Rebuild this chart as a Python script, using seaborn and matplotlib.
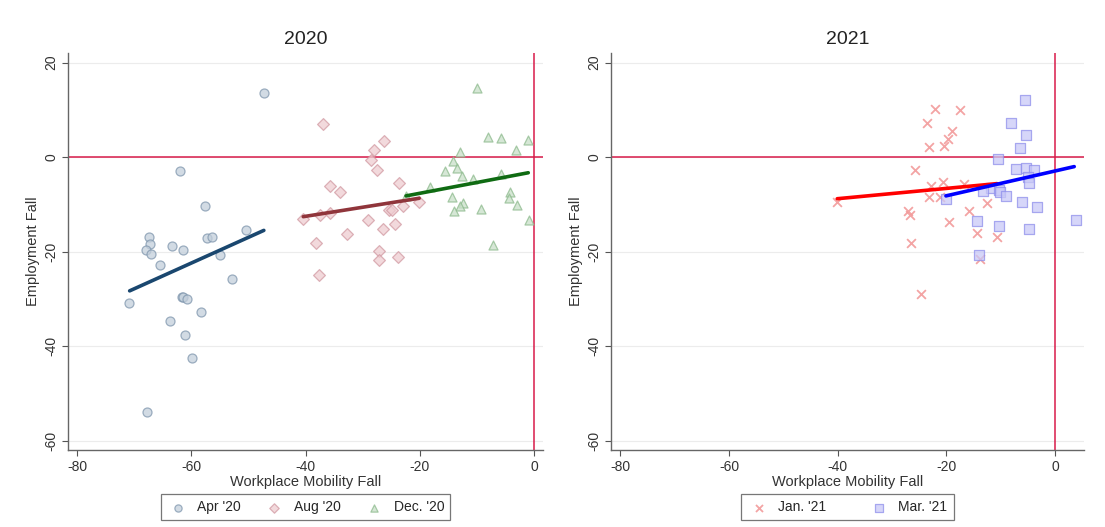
import numpy as np
import pandas as pd
import matplotlib
matplotlib.use("Agg")
import matplotlib.pyplot as plt
import seaborn as sns

# ---- data: workplace mobility fall (x) vs employment fall (y) ----
apr20_x = [-47.2, -61.9, -57.6, -50.5, -67.4, -57.3, -56.4, -67.2, -63.4, -67.9,
           -61.4, -67.0, -55.0, -65.4, -52.9, -70.9, -61.7, -61.5, -60.8, -58.3,
           -63.7, -61.1, -59.8, -67.7]
apr20_y = [13.5, -2.9, -10.3, -15.4, -16.8, -17.2, -16.8, -18.4, -18.7, -19.6,
           -19.6, -20.4, -20.8, -22.9, -25.7, -30.9, -29.6, -29.7, -30.1, -32.8,
           -34.6, -37.6, -42.6, -53.9]

aug20_x = [-37.0, -26.3, -28.0, -28.6, -27.4, -23.6, -35.7, -34.0, -40.4, -37.4,
           -35.8, -25.4, -24.9, -23.0, -29.1, -26.4, -24.3, -32.7, -38.2, -27.1,
           -27.1, -23.8, -37.7, -20.2]
aug20_y = [7.0, 3.5, 1.5, -0.5, -2.8, -5.5, -6.2, -7.3, -13.0, -12.3,
           -11.9, -11.1, -11.1, -10.3, -13.3, -15.3, -14.1, -16.2, -18.1, -19.9,
           -21.8, -21.2, -24.9, -9.5]

dec20_x = [-9.9, -8.0, -5.7, -1.0, -3.1, -13.0, -14.1, -13.5, -15.6, -12.6,
           -10.7, -5.8, -18.2, -22.4, -14.4, -4.2, -4.4, -3.0, -12.4, -12.9,
           -14.0, -9.2, -0.9, -7.1]
dec20_y = [14.6, 4.2, 4.1, 3.7, 1.6, 1.1, -0.8, -2.2, -3.0, -4.0,
           -4.7, -3.5, -6.3, -8.2, -8.4, -7.3, -8.6, -10.1, -9.8, -10.4,
           -11.4, -11.0, -13.2, -18.5]

jan21_x = [-22.2, -17.6, -23.6, -19.0, -19.8, -20.4, -23.3, -25.8, -20.7, -22.9,
           -16.7, -23.2, -21.1, -12.6, -27.1, -26.7, -15.8, -19.5, -14.4, -10.7,
           -26.6, -13.8, -40.1, -24.7]
jan21_y = [10.1, 10.0, 7.3, 5.6, 3.8, 2.3, 2.1, -2.8, -5.3, -6.1,
           -5.7, -8.5, -8.5, -9.6, -11.4, -12.3, -11.4, -13.8, -16.1, -16.9,
           -18.1, -21.5, -9.5, -28.9]

mar21_x = [-5.6, -8.2, -5.4, -6.5, -10.6, -7.2, -5.4, -3.9, -5.0, -4.8,
           -11.8, -13.3, -10.4, -10.2, -9.1, -20.1, -6.1, -3.3, -14.4, -10.4,
           -4.8, 3.8, -14.0]
mar21_y = [12.1, 7.3, 4.7, 2.0, -0.4, -2.6, -2.3, -2.8, -4.2, -5.4,
           -6.6, -7.2, -7.0, -7.4, -8.2, -8.8, -9.5, -10.5, -13.5, -14.6,
           -15.2, -13.4, -20.7]

# fitted linear trend per period (endpoints of the fitted segment)
apr20_fit_x = [-70.8, -47.3]
apr20_fit_y = [-28.3, -15.5]
aug20_fit_x = [-40.4, -20.1]
aug20_fit_y = [-12.6, -8.7]
dec20_fit_x = [-22.4, -1.0]
dec20_fit_y = [-8.2, -3.3]
jan21_fit_x = [-40.1, -10.7]
jan21_fit_y = [-8.8, -5.6]
mar21_fit_x = [-20.1, 3.5]
mar21_fit_y = [-8.2, -2.0]

x_ticks = [-80, -60, -40, -20, 0]
y_ticks = [-60, -40, -20, 0, 20]

groups_2020 = [
    ("Apr '20", apr20_x, apr20_y, apr20_fit_x, apr20_fit_y, "o",
     "#c3cfdb", "#8097ae", "#1a476f"),
    ("Aug '20", aug20_x, aug20_y, aug20_fit_x, aug20_fit_y, "D",
     "#eecdd1", "#d29aa3", "#90353b"),
    ("Dec. '20", dec20_x, dec20_y, dec20_fit_x, dec20_fit_y, "^",
     "#c9e0c9", "#8dba8d", "#0f6b12"),
]
groups_2021 = [
    ("Jan. '21", jan21_x, jan21_y, jan21_fit_x, jan21_fit_y, "x",
     "#f29a9a", "#f29a9a", "#ff0000"),
    ("Mar. '21", mar21_x, mar21_y, mar21_fit_x, mar21_fit_y, "s",
     "#c9c9f7", "#8f8fec", "#0000ff"),
]

sns.set_style("white")
plt.rcParams["font.family"] = ["Liberation Sans", "DejaVu Sans"]

fig = plt.figure(figsize=(11.05, 5.27), dpi=100)
ax_l = fig.add_axes([0.0615, 0.146, 0.430, 0.753])
ax_r = fig.add_axes([0.553, 0.146, 0.428, 0.753])

ref_color = "#d81b4a"


def draw_panel(ax, groups, title, xlim, colspace):
    ax.set_xlim(*xlim)
    ax.set_ylim(-62, 22)
    for yt in y_ticks:
        ax.axhline(yt, color="#ececec", lw=0.8, zorder=0)
    ax.axhline(0, color=ref_color, lw=1.1, zorder=1)
    ax.axvline(0, color=ref_color, lw=1.1, zorder=1)
    for label, xs, ys, fx, fy, mk, fc, ec, lc in groups:
        df = pd.DataFrame({"x": xs, "y": ys})
        if mk == "x":
            sns.scatterplot(data=df, x="x", y="y", marker="x", color=fc,
                            s=40, linewidth=1.3, alpha=0.9, ax=ax,
                            label=label, zorder=2)
        else:
            size = 42 if mk != "D" else 36
            sns.scatterplot(data=df, x="x", y="y", marker=mk, color=fc,
                            edgecolor=ec, linewidth=0.9, s=size, alpha=0.75,
                            ax=ax, label=label, zorder=2)
        fit = pd.DataFrame({"x": fx, "y": fy})
        sns.lineplot(data=fit, x="x", y="y", color=lc, lw=2.6, ax=ax,
                     zorder=3, legend=False, estimator=None, sort=False)
    ax.set_xticks(x_ticks)
    ax.set_yticks(y_ticks)
    ax.set_xticklabels([str(v) for v in x_ticks])
    ax.set_yticklabels([str(v) for v in y_ticks])
    ax.tick_params(axis="both", direction="out", length=4, width=0.8,
                   color="#555555", labelsize=10, labelcolor="#333333",
                   left=True, bottom=True, pad=3)
    ax.tick_params(axis="y", labelrotation=90)
    for lbl in ax.get_yticklabels():
        lbl.set_va("center")
    for side in ["top", "right"]:
        ax.spines[side].set_visible(False)
    for side in ["left", "bottom"]:
        ax.spines[side].set_color("#666666")
        ax.spines[side].set_linewidth(1.0)
    ax.set_xlabel("Workplace Mobility Fall", fontsize=10.5, color="#333333",
                  labelpad=1)
    ax.set_ylabel("Employment Fall", fontsize=10.5, color="#333333",
                  labelpad=3)
    ax.set_title(title, fontsize=14, color="#222222", pad=7)
    leg = ax.legend(loc="upper center", bbox_to_anchor=(0.5, -0.10),
                    ncol=len(groups), frameon=True, fancybox=False,
                    fontsize=10, handletextpad=0.6, columnspacing=colspace,
                    borderpad=0.45, borderaxespad=0.3, markerscale=0.8,
                    handlelength=1.6)
    leg.get_frame().set_edgecolor("#555555")
    leg.get_frame().set_linewidth(0.9)


draw_panel(ax_l, groups_2020, "2020", (-81.6, 1.6), 1.6)
draw_panel(ax_r, groups_2021, "2021", (-81.7, 5.3), 3.0)

fig.savefig("out.png", dpi=100, facecolor="white")
